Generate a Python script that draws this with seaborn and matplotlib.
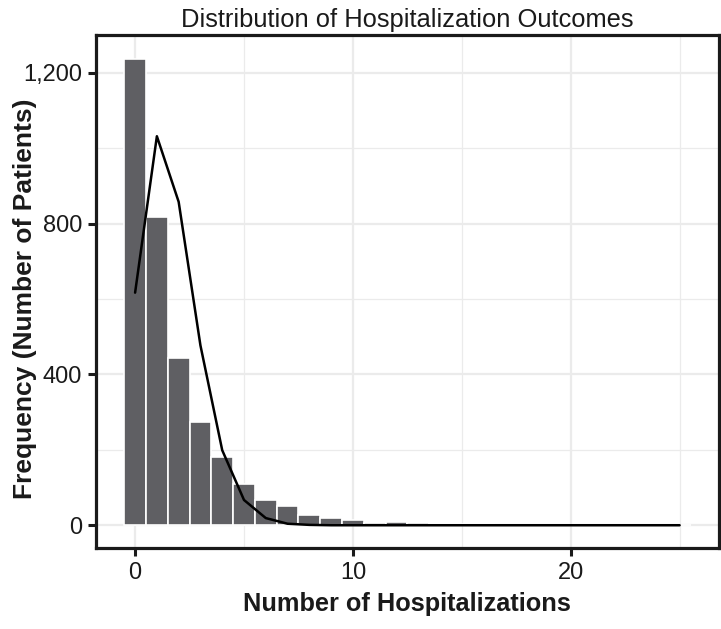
import matplotlib
matplotlib.use("Agg")
import matplotlib.pyplot as plt
import matplotlib.ticker as mticker
import pandas as pd
import seaborn as sns

# Observed counts per number of hospitalizations (0..25)
hospitalizations = list(range(26))
observed_counts = [1237, 818, 444, 275, 182, 109, 68, 50, 27, 20, 15, 7, 9, 6,
                   3, 2, 2, 1, 1, 1, 1, 0, 1, 0, 0, 1]
# Expected counts (fitted curve) at the same points
expected_counts = [617, 1032, 858, 477, 199, 67, 19, 4, 1, 0, 0, 0, 0, 0,
                   0, 0, 0, 0, 0, 0, 0, 0, 0, 0, 0, 0]

y_ticks = [0, 400, 800, 1200]
x_ticks = [0, 10, 20]

df = pd.DataFrame({"n": hospitalizations, "observed": observed_counts,
                   "expected": expected_counts})

sns.set_theme(style="white")
plt.rcParams['font.family'] = ['Liberation Sans', 'DejaVu Sans']

fig = plt.figure(figsize=(7.21, 6.29), dpi=100)
ax = fig.add_axes([0.133, 0.129, 0.864, 0.815])

# Draw histogram and fitted line
sns.histplot(data=df, x="n", weights="observed", discrete=True, shrink=1,
             color="#5f5f63", edgecolor="white", linewidth=1.2, alpha=1, ax=ax)
sns.lineplot(data=df, x="n", y="expected", color="black", linewidth=1.8, ax=ax)

ax.set_xlim(-1.8, 26.8)
ax.set_ylim(-60, 1300)
ax.set_xticks(x_ticks)
ax.set_yticks(y_ticks)
ax.set_xticks([5, 15, 25], minor=True)
ax.set_yticks([200, 600, 1000], minor=True)
ax.yaxis.set_major_formatter(mticker.FuncFormatter(lambda v, p: f"{int(v):,}"))

# ggplot-like grid and frame
ax.grid(which="major", color="#ebebeb", linewidth=1.6)
ax.grid(which="minor", color="#ebebeb", linewidth=0.9)
ax.set_axisbelow(True)
for s in ax.spines.values():
    s.set_color("#1a1a1a")
    s.set_linewidth(2.3)
ax.tick_params(which="major", direction="out", length=6, width=2.2,
               color="#1a1a1a", labelsize=17, labelcolor="#1a1a1a", pad=4,
               bottom=True, left=True)
ax.tick_params(which="minor", length=0)

ax.set_title("Distribution of Hospitalization Outcomes", fontsize=18.4,
             color="#1a1a1a", pad=6)
ax.set_xlabel("Number of Hospitalizations", fontsize=18.3, fontweight="bold",
              color="#1a1a1a", labelpad=6)
ax.set_ylabel("Frequency (Number of Patients)", fontsize=19,
              fontweight="bold", color="#1a1a1a")
# label sits close to the left edge, overlapping the tick-label column
ax.yaxis.set_label_coords(-0.094, 0.485)

fig.savefig("out.png", dpi=100)
